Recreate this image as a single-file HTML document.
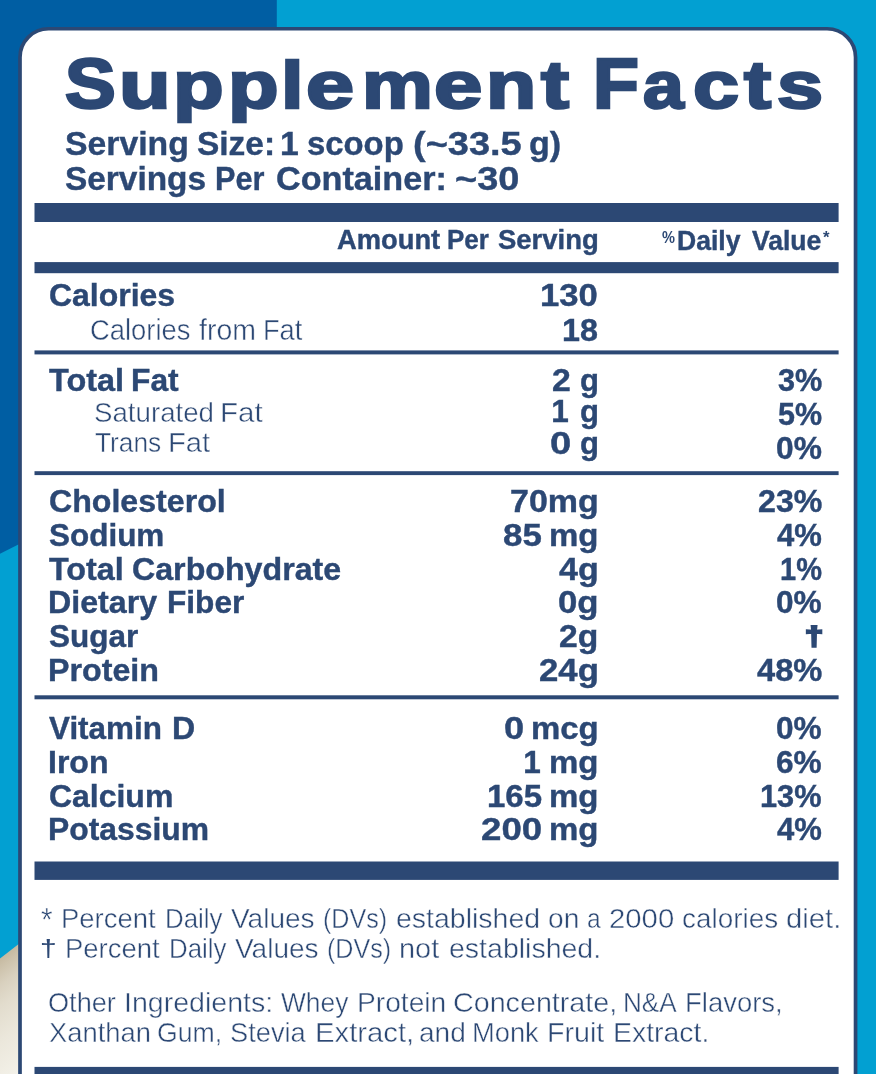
<!DOCTYPE html>
<html lang="en">
<head>
<meta charset="utf-8">
<title>Supplement Facts</title>
<style>
  html,body{margin:0;padding:0}
  body{width:876px;height:1074px;overflow:hidden;position:relative;background:#02a0d2;
       font-family:"Liberation Sans",sans-serif;color:#2c4874}
  .bg{position:absolute;left:0;top:0;width:876px;height:1074px;display:block}
  .t{position:absolute;display:block;white-space:nowrap;line-height:1;transform-origin:0 0;margin:0;
      font-family:"Liberation Sans",sans-serif;color:#2c4874}
  .facts{position:absolute;left:0;top:0;width:876px;height:1074px;will-change:transform}
  .b{font-weight:700}
  .r{font-weight:400}
  h1,p{margin:0;font-size:inherit;font-weight:inherit}
</style>
</head>
<body>
<!-- background artwork, label panel and rules -->
<svg class="bg" width="876" height="1074" viewBox="0 0 876 1074">
  <defs>
    <linearGradient id="bowl" gradientUnits="userSpaceOnUse" x1="0" y1="958" x2="67.1" y2="1044.9">
      <stop offset="0" stop-color="#c5b9a0"/>
      <stop offset="0.06" stop-color="#ccc1aa"/>
      <stop offset="0.2" stop-color="#d9d1bf"/>
      <stop offset="0.35" stop-color="#e2dccd"/>
      <stop offset="0.6" stop-color="#ebe7db"/>
      <stop offset="0.8" stop-color="#f0ede3"/>
      <stop offset="0.95" stop-color="#f4f2ea"/>
      <stop offset="1" stop-color="#f5f3ec"/>
    </linearGradient>
  </defs>
  <rect x="0" y="0" width="876" height="1074" fill="#02a0d2"/>
  <polygon points="0,0 276.8,0 276.8,414 0,553.8" fill="#005ea3"/>
  <polygon points="0,958.4 40,927.5 40,1074 0,1074" fill="url(#bowl)"/>
  <!-- panel -->
  <rect x="20.0" y="28.75" width="835.55" height="1100" rx="28.5" ry="28.5" fill="#ffffff" stroke="#2c4874" stroke-width="3.7"/>
  <!-- rules -->
  <g fill="#2c4874">
    <rect x="34.5" y="203.0" width="804.1" height="19.0"/>
    <rect x="34.5" y="262.1" width="804.1" height="11.1"/>
    <rect x="34.5" y="350.4" width="804.1" height="4.0"/>
    <rect x="34.5" y="471.2" width="804.1" height="3.9"/>
    <rect x="34.5" y="695.3" width="804.1" height="4.0"/>
    <rect x="34.5" y="861.5" width="804.1" height="18.4"/>
    <rect x="34.5" y="1066.9" width="804.1" height="19.0"/>
  </g>
</svg>

<div class="facts">
  <h1>
    <span class="g"><span id="ta0" class="t b" style="left:65.36px;top:50.00px;font-size:69.91px;-webkit-text-stroke:2.6px #2c4874;transform:scaleX(1.0883)">S</span><span id="ta1" class="t b" style="left:119.48px;top:53.00px;font-size:69.91px;-webkit-text-stroke:2.6px #2c4874;transform:scale(1.2082,0.950)">u</span><span id="ta2" class="t b" style="left:173.24px;top:53.00px;font-size:69.91px;-webkit-text-stroke:2.6px #2c4874;transform:scale(1.1868,0.950)">p</span><span id="ta3" class="t b" style="left:227.75px;top:53.00px;font-size:69.91px;-webkit-text-stroke:2.6px #2c4874;transform:scale(1.1842,0.950)">p</span><span id="ta4" class="t b" style="left:281.44px;top:53.00px;font-size:69.91px;-webkit-text-stroke:2.6px #2c4874;transform:scale(1.1592,0.950)">l</span><span id="ta5" class="t b" style="left:306.45px;top:53.00px;font-size:69.91px;-webkit-text-stroke:2.6px #2c4874;transform:scale(1.2359,0.950)">e</span><span id="ta6" class="t b" style="left:361.80px;top:53.00px;font-size:69.91px;-webkit-text-stroke:2.6px #2c4874;transform:scale(1.1393,0.950)">m</span><span id="ta7" class="t b" style="left:434.23px;top:53.00px;font-size:69.91px;-webkit-text-stroke:2.6px #2c4874;transform:scale(1.2441,0.950)">e</span><span id="ta8" class="t b" style="left:486.18px;top:53.00px;font-size:69.91px;-webkit-text-stroke:2.6px #2c4874;transform:scale(1.1753,0.950)">n</span><span id="ta9" class="t b" style="left:540.80px;top:53.00px;font-size:69.91px;-webkit-text-stroke:2.6px #2c4874;transform:scale(1.2041,0.950)">t</span></span>
    <span class="g"><span id="tb0" class="t b" style="left:593.14px;top:50.00px;font-size:69.91px;-webkit-text-stroke:2.6px #2c4874;transform:scaleX(1.0737)">F</span><span id="tb1" class="t b" style="left:643.42px;top:53.00px;font-size:69.91px;-webkit-text-stroke:2.6px #2c4874;transform:scale(1.0465,0.950)">a</span><span id="tb2" class="t b" style="left:692.82px;top:53.00px;font-size:69.91px;-webkit-text-stroke:2.6px #2c4874;transform:scale(1.1837,0.950)">c</span><span id="tb3" class="t b" style="left:744.18px;top:53.00px;font-size:69.91px;-webkit-text-stroke:2.6px #2c4874;transform:scale(1.1670,0.950)">t</span><span id="tb4" class="t b" style="left:777.41px;top:53.00px;font-size:69.91px;-webkit-text-stroke:2.6px #2c4874;transform:scale(1.1862,0.950)">s</span></span>
  </h1>
  <div class="serving">
    <span class="g"><span id="s1_0" class="t b" style="left:64.55px;top:127.00px;font-size:33.72px;-webkit-text-stroke:0.4px #2c4874;transform:scaleX(1.0012)">Serving</span> <span id="s1_1" class="t b" style="left:197.36px;top:127.00px;font-size:33.72px;-webkit-text-stroke:0.4px #2c4874;transform:scaleX(0.9920)">Size:</span> <span id="s1_2" class="t b" style="left:280.10px;top:127.00px;font-size:33.72px;-webkit-text-stroke:0.4px #2c4874;transform:scaleX(1.0000)">1</span> <span id="s1_3" class="t b" style="left:307.43px;top:127.00px;font-size:33.72px;-webkit-text-stroke:0.4px #2c4874;transform:scaleX(0.9742)">scoop</span> <span id="s1_4" class="t b" style="left:412.71px;top:127.00px;font-size:33.72px;-webkit-text-stroke:0.4px #2c4874;transform:scaleX(1.1257)">(~33.5</span> <span id="s1_5" class="t b" style="left:529.44px;top:127.00px;font-size:33.72px;-webkit-text-stroke:0.4px #2c4874;transform:scaleX(1.0103)">g)</span></span>
    <span class="g"><span id="s2_0" class="t b" style="left:64.56px;top:162.00px;font-size:33.72px;-webkit-text-stroke:0.4px #2c4874;transform:scaleX(0.9907)">Servings</span> <span id="s2_1" class="t b" style="left:215.38px;top:162.00px;font-size:33.72px;-webkit-text-stroke:0.4px #2c4874;transform:scaleX(0.9096)">Per</span> <span id="s2_2" class="t b" style="left:276.03px;top:162.00px;font-size:33.72px;-webkit-text-stroke:0.4px #2c4874;transform:scaleX(1.0137)">Container:</span> <span id="s2_3" class="t b" style="left:455.19px;top:162.00px;font-size:33.72px;-webkit-text-stroke:0.4px #2c4874;transform:scaleX(1.1251)">~30</span></span>
  </div>
  <div class="thead">
    <span class="g"><span id="h1_0" class="t b" style="left:336.79px;top:227.00px;font-size:27.04px;-webkit-text-stroke:0.4px #2c4874;transform:scaleX(1.0108)">Amount</span> <span id="h1_1" class="t b" style="left:446.96px;top:227.00px;font-size:27.04px;-webkit-text-stroke:0.4px #2c4874;transform:scaleX(0.9605)">Per</span> <span id="h1_2" class="t b" style="left:497.59px;top:227.00px;font-size:27.04px;-webkit-text-stroke:0.4px #2c4874;transform:scaleX(1.0155)">Serving</span></span>
    <span id="h2p" class="t b" style="left:662.44px;top:229.00px;font-size:16.29px;transform:scaleX(0.8945)">%</span>
    <span class="g"><span id="h2_0" class="t b" style="left:676.91px;top:228.00px;font-size:26.74px;-webkit-text-stroke:0.4px #2c4874;transform:scaleX(0.9936)">Daily</span> <span id="h2_1" class="t b" style="left:751.90px;top:228.00px;font-size:26.74px;-webkit-text-stroke:0.4px #2c4874;transform:scaleX(0.9921)">Value</span></span>
    <span id="h2s" class="t b" style="left:822.70px;top:230.00px;font-size:15.73px;transform:scaleX(1.0673)">*</span>
  </div>
  <div class="sec calories">
    <span id="c1" class="t b" style="left:48.89px;top:280.00px;font-size:31.54px;-webkit-text-stroke:0.4px #2c4874;transform:scaleX(1.0135)">Calories</span>
    <span id="c1a" class="t b" style="left:540.38px;top:280.00px;font-size:31.54px;-webkit-text-stroke:0.4px #2c4874;transform:scaleX(1.0995)">130</span>
    <span class="g"><span id="c2_0" class="t r" style="left:89.97px;top:316.00px;font-size:29.00px;-webkit-text-stroke:0.45px #fff;transform:scaleX(0.9448)">Calories</span> <span id="c2_1" class="t r" style="left:199.49px;top:316.00px;font-size:29.00px;-webkit-text-stroke:0.45px #fff;transform:scaleX(0.9827)">from</span> <span id="c2_2" class="t r" style="left:263.04px;top:316.00px;font-size:29.00px;-webkit-text-stroke:0.45px #fff;transform:scaleX(0.9381)">Fat</span></span>
    <span id="c2a" class="t b" style="left:561.91px;top:315.00px;font-size:31.54px;-webkit-text-stroke:0.4px #2c4874;transform:scaleX(1.0246)">18</span>
  </div>
  <div class="sec fat">
    <span class="g"><span id="f1_0" class="t b" style="left:49.24px;top:365.00px;font-size:31.54px;-webkit-text-stroke:0.4px #2c4874;transform:scaleX(1.0276)">Total</span> <span id="f1_1" class="t b" style="left:131.18px;top:365.00px;font-size:31.54px;-webkit-text-stroke:0.4px #2c4874;transform:scaleX(1.0077)">Fat</span></span>
    <span class="g"><span id="f1a_0" class="t b" style="left:552.03px;top:365.00px;font-size:31.54px;-webkit-text-stroke:0.4px #2c4874;transform:scaleX(1.0710)">2</span> <span id="f1a_1" class="t b" style="left:579.52px;top:365.00px;font-size:31.54px;-webkit-text-stroke:0.4px #2c4874;transform:scaleX(0.9846)">g</span></span>
    <span id="f1d" class="t b" style="left:777.61px;top:365.00px;font-size:31.54px;-webkit-text-stroke:0.4px #2c4874;transform:scaleX(0.9730)">3%</span>
    <span class="g"><span id="f2_0" class="t r" style="left:93.82px;top:399.00px;font-size:27.54px;-webkit-text-stroke:0.45px #fff;transform:scaleX(1.0052)">Saturated</span> <span id="f2_1" class="t r" style="left:219.94px;top:399.00px;font-size:27.54px;-webkit-text-stroke:0.45px #fff;transform:scaleX(1.0734)">Fat</span></span>
    <span class="g"><span id="f2a_0" class="t b" style="left:551.15px;top:396.00px;font-size:31.54px;-webkit-text-stroke:0.4px #2c4874;transform:scaleX(1.0000)">1</span> <span id="f2a_1" class="t b" style="left:579.52px;top:396.00px;font-size:31.54px;-webkit-text-stroke:0.4px #2c4874;transform:scaleX(0.9846)">g</span></span>
    <span id="f2d" class="t b" style="left:777.87px;top:399.00px;font-size:31.54px;-webkit-text-stroke:0.4px #2c4874;transform:scaleX(0.9672)">5%</span>
    <span class="g"><span id="f3_0" class="t r" style="left:94.71px;top:429.00px;font-size:27.69px;-webkit-text-stroke:0.45px #fff;transform:scaleX(0.9499)">Trans</span> <span id="f3_1" class="t r" style="left:168.19px;top:429.00px;font-size:27.69px;-webkit-text-stroke:0.45px #fff;transform:scaleX(1.0553)">Fat</span></span>
    <span class="g"><span id="f3a_0" class="t b" style="left:550.29px;top:428.00px;font-size:31.54px;-webkit-text-stroke:0.4px #2c4874;transform:scaleX(1.2065)">0</span> <span id="f3a_1" class="t b" style="left:579.52px;top:428.00px;font-size:31.54px;-webkit-text-stroke:0.4px #2c4874;transform:scaleX(0.9846)">g</span></span>
    <span id="f3d" class="t b" style="left:776.09px;top:433.00px;font-size:31.54px;-webkit-text-stroke:0.4px #2c4874;transform:scaleX(1.0068)">0%</span>
  </div>
  <div class="sec nutrients">
    <span id="n0_0" class="t b" style="left:48.68px;top:486.00px;font-size:31.54px;-webkit-text-stroke:0.4px #2c4874;transform:scaleX(1.0188)">Cholesterol</span>
    <span id="n0a_0" class="t b" style="left:510.05px;top:486.00px;font-size:31.54px;-webkit-text-stroke:0.4px #2c4874;transform:scaleX(1.0776)">70mg</span>
    <span id="n0d" class="t b" style="left:757.68px;top:486.00px;font-size:31.54px;-webkit-text-stroke:0.4px #2c4874;transform:scaleX(1.0195)">23%</span>
    <span id="n1_0" class="t b" style="left:48.95px;top:520.00px;font-size:31.54px;-webkit-text-stroke:0.4px #2c4874;transform:scaleX(0.9973)">Sodium</span>
    <span class="g"><span id="n1a_0" class="t b" style="left:502.97px;top:520.00px;font-size:31.54px;-webkit-text-stroke:0.4px #2c4874;transform:scaleX(1.1052)">85</span> <span id="n1a_1" class="t b" style="left:549.21px;top:520.00px;font-size:31.54px;-webkit-text-stroke:0.4px #2c4874;transform:scaleX(1.0460)">mg</span></span>
    <span id="n1d" class="t b" style="left:777.05px;top:520.00px;font-size:31.54px;-webkit-text-stroke:0.4px #2c4874;transform:scaleX(0.9855)">4%</span>
    <span class="g"><span id="n2_0" class="t b" style="left:49.44px;top:554.00px;font-size:31.54px;-webkit-text-stroke:0.4px #2c4874;transform:scaleX(1.0247)">Total</span> <span id="n2_1" class="t b" style="left:132.18px;top:554.00px;font-size:31.54px;-webkit-text-stroke:0.4px #2c4874;transform:scaleX(1.0202)">Carbohydrate</span></span>
    <span id="n2a_0" class="t b" style="left:559.03px;top:554.00px;font-size:31.54px;-webkit-text-stroke:0.4px #2c4874;transform:scaleX(1.0791)">4g</span>
    <span id="n2d" class="t b" style="left:779.99px;top:554.00px;font-size:31.54px;-webkit-text-stroke:0.4px #2c4874;transform:scaleX(0.9202)">1%</span>
    <span class="g"><span id="n3_0" class="t b" style="left:47.66px;top:587.00px;font-size:31.54px;-webkit-text-stroke:0.4px #2c4874;transform:scaleX(1.0210)">Dietary</span> <span id="n3_1" class="t b" style="left:166.60px;top:587.00px;font-size:31.54px;-webkit-text-stroke:0.4px #2c4874;transform:scaleX(1.0020)">Fiber</span></span>
    <span id="n3a_0" class="t b" style="left:558.20px;top:587.00px;font-size:31.54px;-webkit-text-stroke:0.4px #2c4874;transform:scaleX(1.1029)">0g</span>
    <span id="n3d" class="t b" style="left:776.30px;top:587.00px;font-size:31.54px;-webkit-text-stroke:0.4px #2c4874;transform:scaleX(1.0023)">0%</span>
    <span id="n4_0" class="t b" style="left:48.95px;top:621.00px;font-size:31.54px;-webkit-text-stroke:0.4px #2c4874;transform:scaleX(0.9994)">Sugar</span>
    <span id="n4a_0" class="t b" style="left:559.43px;top:621.00px;font-size:31.54px;-webkit-text-stroke:0.4px #2c4874;transform:scaleX(1.0676)">2g</span>
    <span id="n4d" class="t b" style="left:805.38px;top:623.00px;font-size:26.67px;-webkit-text-stroke:2.2px #2c4874;transform:scaleX(1.2234)">†</span>
    <span id="n5_0" class="t b" style="left:47.66px;top:655.00px;font-size:31.54px;-webkit-text-stroke:0.4px #2c4874;transform:scaleX(1.0210)">Protein</span>
    <span id="n5a_0" class="t b" style="left:538.90px;top:655.00px;font-size:31.54px;-webkit-text-stroke:0.4px #2c4874;transform:scaleX(1.1029)">24g</span>
    <span id="n5d" class="t b" style="left:756.64px;top:655.00px;font-size:31.54px;-webkit-text-stroke:0.4px #2c4874;transform:scaleX(1.0361)">48%</span>
  </div>
  <div class="sec vitamins">
    <span class="g"><span id="v0_0" class="t b" style="left:49.40px;top:713.00px;font-size:31.54px;-webkit-text-stroke:0.4px #2c4874;transform:scaleX(0.9964)">Vitamin</span> <span id="v0_1" class="t b" style="left:172.36px;top:713.00px;font-size:31.54px;-webkit-text-stroke:0.4px #2c4874;transform:scaleX(1.0177)">D</span></span>
    <span class="g"><span id="v0a_0" class="t b" style="left:503.85px;top:713.00px;font-size:31.54px;-webkit-text-stroke:0.4px #2c4874;transform:scaleX(1.1484)">0</span> <span id="v0a_1" class="t b" style="left:531.01px;top:713.00px;font-size:31.54px;-webkit-text-stroke:0.4px #2c4874;transform:scaleX(1.0443)">mcg</span></span>
    <span id="v0d" class="t b" style="left:776.30px;top:713.00px;font-size:31.54px;-webkit-text-stroke:0.4px #2c4874;transform:scaleX(1.0023)">0%</span>
    <span id="v1_0" class="t b" style="left:47.87px;top:747.00px;font-size:31.54px;-webkit-text-stroke:0.4px #2c4874;transform:scaleX(1.0152)">Iron</span>
    <span class="g"><span id="v1a_0" class="t b" style="left:523.15px;top:747.00px;font-size:31.54px;-webkit-text-stroke:0.4px #2c4874;transform:scaleX(1.0000)">1</span> <span id="v1a_1" class="t b" style="left:549.21px;top:747.00px;font-size:31.54px;-webkit-text-stroke:0.4px #2c4874;transform:scaleX(1.0460)">mg</span></span>
    <span id="v1d" class="t b" style="left:776.30px;top:747.00px;font-size:31.54px;-webkit-text-stroke:0.4px #2c4874;transform:scaleX(1.0023)">6%</span>
    <span id="v2_0" class="t b" style="left:48.89px;top:781.00px;font-size:31.54px;-webkit-text-stroke:0.4px #2c4874;transform:scaleX(1.0133)">Calcium</span>
    <span class="g"><span id="v2a_0" class="t b" style="left:486.67px;top:781.00px;font-size:31.54px;-webkit-text-stroke:0.4px #2c4874;transform:scaleX(1.0468)">165</span> <span id="v2a_1" class="t b" style="left:549.21px;top:781.00px;font-size:31.54px;-webkit-text-stroke:0.4px #2c4874;transform:scaleX(1.0460)">mg</span></span>
    <span id="v2d" class="t b" style="left:760.49px;top:781.00px;font-size:31.54px;-webkit-text-stroke:0.4px #2c4874;transform:scaleX(0.9745)">13%</span>
    <span id="v3_0" class="t b" style="left:47.98px;top:814.00px;font-size:31.54px;-webkit-text-stroke:0.4px #2c4874;transform:scaleX(1.0100)">Potassium</span>
    <span class="g"><span id="v3a_0" class="t b" style="left:481.24px;top:814.00px;font-size:31.54px;-webkit-text-stroke:0.4px #2c4874;transform:scaleX(1.1624)">200</span> <span id="v3a_1" class="t b" style="left:549.21px;top:814.00px;font-size:31.54px;-webkit-text-stroke:0.4px #2c4874;transform:scaleX(1.0460)">mg</span></span>
    <span id="v3d" class="t b" style="left:777.05px;top:814.00px;font-size:31.54px;-webkit-text-stroke:0.4px #2c4874;transform:scaleX(0.9855)">4%</span>
  </div>
  <div class="notes">
    <span class="g"><span id="p1s" class="t r" style="left:41.17px;top:904.00px;font-size:32.47px;-webkit-text-stroke:0.45px #fff;transform:scaleX(0.9182)">*</span> <span id="p1_0" class="t r" style="left:61.00px;top:904.00px;font-size:28.27px;-webkit-text-stroke:0.45px #fff;transform:scaleX(0.9709)">Percent</span> <span id="p1_1" class="t r" style="left:164.73px;top:904.00px;font-size:28.27px;-webkit-text-stroke:0.45px #fff;transform:scaleX(0.9159)">Daily</span> <span id="p1_2" class="t r" style="left:231.13px;top:904.00px;font-size:28.27px;-webkit-text-stroke:0.45px #fff;transform:scaleX(0.9909)">Values</span> <span id="p1_3" class="t r" style="left:323.14px;top:904.00px;font-size:28.27px;-webkit-text-stroke:0.45px #fff;transform:scaleX(0.8887)">(DVs)</span> <span id="p1_4" class="t r" style="left:396.01px;top:904.00px;font-size:28.27px;-webkit-text-stroke:0.45px #fff;transform:scaleX(1.0075)">established</span> <span id="p1_5" class="t r" style="left:547.83px;top:904.00px;font-size:28.27px;-webkit-text-stroke:0.45px #fff;transform:scaleX(0.9947)">on</span> <span id="p1_6" class="t r" style="left:586.92px;top:904.00px;font-size:28.27px;-webkit-text-stroke:0.45px #fff;transform:scaleX(0.8683)">a</span> <span id="p1_7" class="t r" style="left:609.11px;top:904.00px;font-size:28.27px;-webkit-text-stroke:0.45px #fff;transform:scaleX(1.0368)">2000</span> <span id="p1_8" class="t r" style="left:682.04px;top:904.00px;font-size:28.27px;-webkit-text-stroke:0.45px #fff;transform:scaleX(0.9868)">calories</span> <span id="p1_9" class="t r" style="left:786.47px;top:904.00px;font-size:28.27px;-webkit-text-stroke:0.45px #fff;transform:scaleX(1.0357)">diet.</span></span>
    <span class="g"><span id="p2s" class="t r" style="left:40.43px;top:937.00px;font-size:24.19px;-webkit-text-stroke:0.12px #2c4874;transform:scaleX(1.2366)">†</span> <span id="p2_0" class="t r" style="left:64.69px;top:934.00px;font-size:28.27px;-webkit-text-stroke:0.45px #fff;transform:scaleX(0.9720)">Percent</span> <span id="p2_1" class="t r" style="left:168.64px;top:934.00px;font-size:28.27px;-webkit-text-stroke:0.45px #fff;transform:scaleX(0.9142)">Daily</span> <span id="p2_2" class="t r" style="left:234.93px;top:934.00px;font-size:28.27px;-webkit-text-stroke:0.45px #fff;transform:scaleX(0.9909)">Values</span> <span id="p2_3" class="t r" style="left:327.04px;top:934.00px;font-size:28.27px;-webkit-text-stroke:0.45px #fff;transform:scaleX(0.8887)">(DVs)</span> <span id="p2_4" class="t r" style="left:399.32px;top:934.00px;font-size:28.27px;-webkit-text-stroke:0.45px #fff;transform:scaleX(1.0233)">not</span> <span id="p2_5" class="t r" style="left:448.71px;top:934.00px;font-size:28.27px;-webkit-text-stroke:0.45px #fff;transform:scaleX(1.0085)">established.</span></span>
    <span class="g"><span id="p3_0" class="t r" style="left:48.08px;top:988.00px;font-size:28.27px;-webkit-text-stroke:0.45px #fff;transform:scaleX(0.9599)">Other</span> <span id="p3_1" class="t r" style="left:124.35px;top:988.00px;font-size:28.27px;-webkit-text-stroke:0.45px #fff;transform:scaleX(1.0105)">Ingredients:</span> <span id="p3_2" class="t r" style="left:280.86px;top:988.00px;font-size:28.27px;-webkit-text-stroke:0.45px #fff;transform:scaleX(0.9313)">Whey</span> <span id="p3_3" class="t r" style="left:357.04px;top:988.00px;font-size:28.27px;-webkit-text-stroke:0.45px #fff;transform:scaleX(0.9959)">Protein</span> <span id="p3_4" class="t r" style="left:452.95px;top:988.00px;font-size:28.27px;-webkit-text-stroke:0.45px #fff;transform:scaleX(1.0146)">Concentrate,</span> <span id="p3_5" class="t r" style="left:623.21px;top:988.00px;font-size:28.27px;-webkit-text-stroke:0.45px #fff;transform:scaleX(0.9241)">N&amp;A</span> <span id="p3_6" class="t r" style="left:685.40px;top:988.00px;font-size:28.27px;-webkit-text-stroke:0.45px #fff;transform:scaleX(0.9717)">Flavors,</span></span>
    <span class="g"><span id="p4_0" class="t r" style="left:48.56px;top:1018.00px;font-size:28.27px;-webkit-text-stroke:0.45px #fff;transform:scaleX(0.9677)">Xanthan</span> <span id="p4_1" class="t r" style="left:157.38px;top:1018.00px;font-size:28.27px;-webkit-text-stroke:0.45px #fff;transform:scaleX(0.9419)">Gum,</span> <span id="p4_2" class="t r" style="left:230.18px;top:1018.00px;font-size:28.27px;-webkit-text-stroke:0.45px #fff;transform:scaleX(0.9635)">Stevia</span> <span id="p4_3" class="t r" style="left:315.34px;top:1018.00px;font-size:28.27px;-webkit-text-stroke:0.45px #fff;transform:scaleX(1.0348)">Extract,</span> <span id="p4_4" class="t r" style="left:418.74px;top:1018.00px;font-size:28.27px;-webkit-text-stroke:0.45px #fff;transform:scaleX(0.9920)">and</span> <span id="p4_5" class="t r" style="left:472.11px;top:1018.00px;font-size:28.27px;-webkit-text-stroke:0.45px #fff;transform:scaleX(0.9653)">Monk</span> <span id="p4_6" class="t r" style="left:546.89px;top:1018.00px;font-size:28.27px;-webkit-text-stroke:0.45px #fff;transform:scaleX(1.0140)">Fruit</span> <span id="p4_7" class="t r" style="left:612.71px;top:1018.00px;font-size:28.27px;-webkit-text-stroke:0.45px #fff;transform:scaleX(1.0061)">Extract.</span></span>
  </div>
</div>
</body>
</html>
